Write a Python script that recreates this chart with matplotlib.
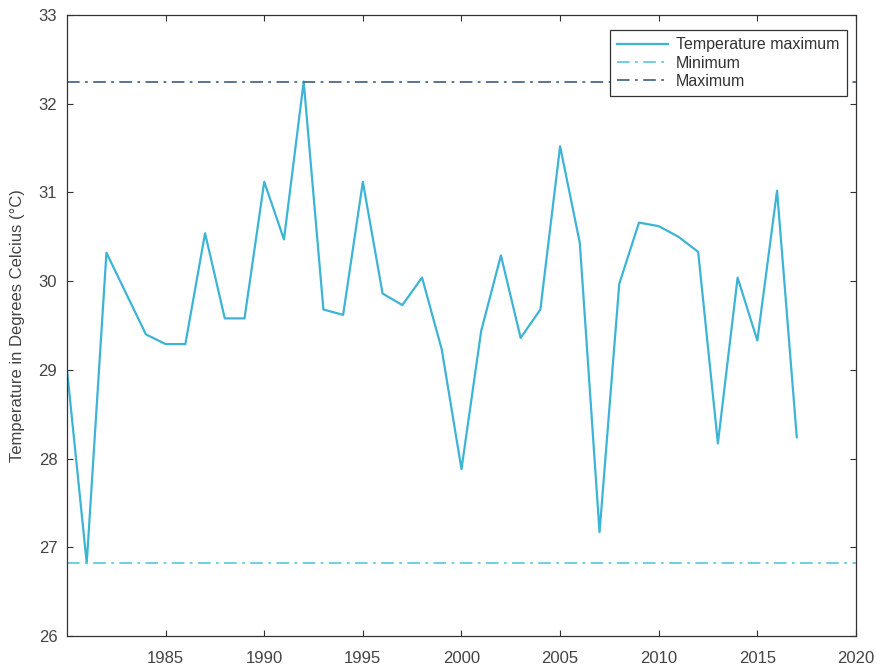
import matplotlib.pyplot as plt
from matplotlib.ticker import FixedLocator

plt.rcParams["font.family"] = ["Liberation Sans", "DejaVu Sans"]

years = [1980, 1981, 1982, 1983, 1984, 1985, 1986, 1987, 1988, 1989,
         1990, 1991, 1992, 1993, 1994, 1995, 1996, 1997, 1998, 1999,
         2000, 2001, 2002, 2003, 2004, 2005, 2006, 2007, 2008, 2009,
         2010, 2011, 2012, 2013, 2014, 2015, 2016, 2017]
temp_max = [29.00, 26.82, 30.32, 29.86, 29.40, 29.29, 29.29, 30.54, 29.58, 29.58,
            31.12, 30.47, 32.25, 29.68, 29.62, 31.12, 29.86, 29.73, 30.04, 29.23,
            27.88, 29.44, 30.29, 29.36, 29.68, 31.52, 30.43, 27.17, 29.97, 30.66,
            30.62, 30.50, 30.33, 28.17, 30.04, 29.33, 31.02, 28.24]
min_value = 26.82
max_value = 32.25
x_ticks = [1985, 1990, 1995, 2000, 2005, 2010, 2015, 2020]
y_ticks = [26, 27, 28, 29, 30, 31, 32, 33]

LINE_COLOR = "#3db4d6"
MIN_COLOR = "#66cbdc"
MAX_COLOR = "#4b6a88"
TEXT_COLOR = "#444444"

fig = plt.figure(figsize=(8.77, 6.68), dpi=100)
ax = fig.add_axes([0.0764, 0.048, 0.8996, 0.9295])

ax.plot(years, temp_max, color=LINE_COLOR, lw=1.6, label="Temperature maximum")
ax.axhline(min_value, color=MIN_COLOR, lw=1.3, ls=(0, (7, 3, 1.5, 3)), label="Minimum")
ax.axhline(max_value, color=MAX_COLOR, lw=1.3, ls=(0, (7, 3, 1.5, 3)), label="Maximum")

ax.set_xlim(1980, 2020)
ax.set_ylim(26, 33)
ax.xaxis.set_major_locator(FixedLocator(x_ticks))
ax.yaxis.set_major_locator(FixedLocator(y_ticks))
ax.tick_params(direction="in", length=4, top=True, right=True,
               labelsize=12, labelcolor=TEXT_COLOR, color="#333333", pad=7)
ax.tick_params(axis="x", pad=11)
for spine in ax.spines.values():
    spine.set_color("#333333")
    spine.set_linewidth(0.9)

ax.set_ylabel("Temperature in Degrees Celcius (°C)", fontsize=12,
              color=TEXT_COLOR, labelpad=10)

leg = ax.legend(loc="upper right", fontsize=11.5, frameon=True, fancybox=False,
                edgecolor="#333333", handlelength=3.2, handletextpad=0.5,
                borderpad=0.45, labelspacing=0.2, framealpha=1.0,
                bbox_to_anchor=(0.9985, 0.9885))
leg.get_frame().set_linewidth(0.9)
for t in leg.get_texts():
    t.set_color("#333333")

fig.savefig("out.png", dpi=100, facecolor="white")
